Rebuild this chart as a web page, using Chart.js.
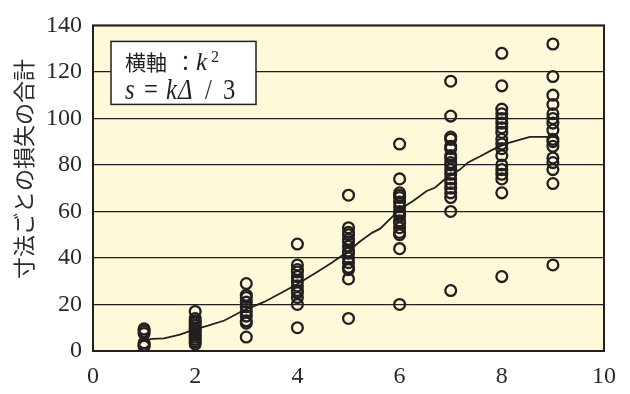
<!DOCTYPE html>
<html>
<head>
<meta charset="utf-8">
<style>
  html, body { margin: 0; padding: 0; background: #ffffff; }
  #wrap { width: 630px; height: 394px; }
</style>
<script src="https://cdn.jsdelivr.net/npm/chart.js@4/dist/chart.umd.min.js"></script>
</head>
<body>
<div id="wrap"><canvas id="c" width="630" height="394"></canvas></div>
<script>
// Axis ticks
const xTickValues = [0, 2, 4, 6, 8, 10];
const yTickValues = [0, 20, 40, 60, 80, 100, 120, 140];

// Total loss per size, one list per k
const lossK1 = [9.5, 8.5, 7.5, 3.5, 2.5, 2];
const lossK2 = [17, 14, 13, 12, 11, 10, 9, 8, 7, 6, 5, 4, 3];
const lossK3 = [29, 24, 23, 21, 19, 17, 15, 13, 12, 6];
const lossK4 = [46, 37, 35, 34, 32, 30, 28, 26, 25, 23, 20, 10];
const lossK5 = [67, 53, 51, 50, 48, 47, 45, 43, 42, 40, 38, 36, 35, 31, 14];
const lossK6 = [89, 74, 68, 67, 66, 64, 62, 60, 59, 58, 56, 55, 53, 51, 50, 44, 20];
const lossK7 = [116, 101, 92, 91, 88, 87, 84, 83, 81, 80, 78, 76, 74, 72, 70, 68, 66, 60, 26];
const lossK8 = [128, 114, 104, 102, 100, 98, 96, 94, 91, 89, 87, 84, 80, 78, 76, 74, 68, 32];
const lossK9 = [132, 118, 110, 106, 102, 100, 98, 95, 91, 90, 88, 83, 81, 78, 72, 37];

// Smoothed trend of the total loss
const trendX = [1.0, 1.16, 1.39, 1.7, 1.98, 2.25, 2.57, 2.96, 3.35, 3.66, 4.01, 4.37, 4.68, 5.0, 5.23, 5.46, 5.62, 6.01, 6.27, 6.53, 6.69, 6.92, 7.18, 7.34, 7.57, 7.83, 8.1, 8.55, 9.04];
const trendY = [4.7, 5.2, 5.4, 7.0, 9.2, 10.9, 13.1, 17.6, 21.1, 24.7, 28.9, 33.8, 38.1, 43.0, 47.2, 50.8, 52.6, 61.0, 64.6, 68.8, 70.2, 74.5, 78.0, 81.1, 83.6, 86.7, 89.3, 92.1, 92.1];

const axisTitle = '寸法ごとの損失の合計';

const lossLists = [lossK1, lossK2, lossK3, lossK4, lossK5, lossK6, lossK7, lossK8, lossK9];
const scatterPoints = [];
lossLists.forEach((list, i) => list.forEach(v => scatterPoints.push({ x: i + 1, y: v })));
const trendPoints = trendX.map((x, i) => ({ x: x, y: trendY[i] }));

const INK = '#231f20';

// Pale plot background, frame, rotated axis title and the note box
const decorPlugin = {
  id: 'decor',
  beforeDraw(chart) {
    const { ctx, chartArea: a } = chart;
    ctx.save();
    ctx.fillStyle = '#fef9d9';
    ctx.fillRect(a.left, a.top, a.right - a.left, a.bottom - a.top);
    ctx.restore();
  },
  afterDatasetsDraw(chart) {
    const { ctx, chartArea: a } = chart;
    ctx.save();
    ctx.strokeStyle = INK;
    ctx.lineWidth = 2;
    ctx.strokeRect(a.left, a.top, a.right - a.left, a.bottom - a.top);
    ctx.restore();
  },
  afterDraw(chart) {
    const { ctx, chartArea: a } = chart;
    ctx.save();
    // axis title
    ctx.translate(24, 169);
    ctx.rotate(-Math.PI / 2);
    ctx.fillStyle = '#2b2b2b';
    ctx.font = '22px "Noto Sans CJK JP"';
    ctx.textAlign = 'center';
    ctx.textBaseline = 'middle';
    ctx.fillText(axisTitle, 0, 0);
    ctx.restore();

    // note box
    const bx = a.left + 18, by = a.top + 16, bw = 145, bh = 63;
    ctx.save();
    ctx.fillStyle = '#ffffff';
    ctx.fillRect(bx, by, bw, bh);
    ctx.strokeStyle = INK;
    ctx.lineWidth = 1.5;
    ctx.strokeRect(bx, by, bw, bh);
    ctx.fillStyle = INK;
    ctx.textBaseline = 'alphabetic';
    ctx.textAlign = 'left';
    ctx.font = '21px "Noto Sans CJK JP"';
    ctx.fillText('横軸', bx + 14, by + 29);
    ctx.fillText('：', bx + 64, by + 29);
    ctx.font = 'italic 25px "Liberation Serif"';
    ctx.fillText('k', bx + 85, by + 29);
    ctx.font = '16px "Liberation Serif"';
    ctx.fillText('2', bx + 100, by + 21);
    // second line, slightly condensed serif
    const drawPart = (txt, x, font) => {
      ctx.save();
      ctx.translate(bx + x, by + 58);
      ctx.scale(0.85, 1);
      ctx.font = font;
      ctx.fillText(txt, 0, 0);
      ctx.restore();
    };
    drawPart('s', 14, 'italic 29px "Liberation Serif"');
    drawPart('=', 33, '29px "Liberation Serif"');
    drawPart('k', 55, 'italic 29px "Liberation Serif"');
    drawPart('Δ', 67, 'italic 29px "Liberation Serif"');
    drawPart('/', 94, '29px "Liberation Serif"');
    drawPart('3', 112, '29px "Liberation Serif"');
    ctx.restore();
  }
};

new Chart(document.getElementById('c'), {
  type: 'scatter',
  data: {
    datasets: [
      {
        type: 'line',
        data: trendPoints,
        borderColor: INK,
        borderWidth: 1.8,
        pointRadius: 0,
        fill: false,
        tension: 0,
        order: 2
      },
      {
        data: scatterPoints,
        pointStyle: 'circle',
        pointRadius: 5.4,
        pointBorderWidth: 2.3,
        pointBorderColor: INK,
        pointBackgroundColor: 'rgba(0,0,0,0)',
        order: 1
      }
    ]
  },
  options: {
    responsive: false,
    animation: false,
    devicePixelRatio: 1,
    layout: { padding: { top: 20, right: 26, left: 0, bottom: 0 } },
    plugins: { legend: { display: false }, tooltip: { enabled: false } },
    scales: {
      x: {
        type: 'linear',
        min: 0,
        max: 10,
        afterBuildTicks(scale) { scale.ticks = xTickValues.map(v => ({ value: v })); },
        afterFit(scale) { scale.height = 43; },
        ticks: {
          font: { family: '"Liberation Serif"', size: 24 },
          color: '#2a2a2a',
          padding: 11,
          maxRotation: 0
        },
        grid: { display: false, drawTicks: false },
        border: { display: false }
      },
      y: {
        min: 0,
        max: 140,
        afterBuildTicks(scale) { scale.ticks = yTickValues.map(v => ({ value: v })); },
        afterFit(scale) { scale.width = 93; },
        ticks: {
          font: { family: '"Liberation Serif"', size: 24 },
          color: '#2a2a2a',
          padding: 11
        },
        grid: { color: INK, lineWidth: 1.2, drawTicks: false },
        border: { display: false }
      }
    }
  },
  plugins: [decorPlugin]
});
</script>
</body>
</html>
